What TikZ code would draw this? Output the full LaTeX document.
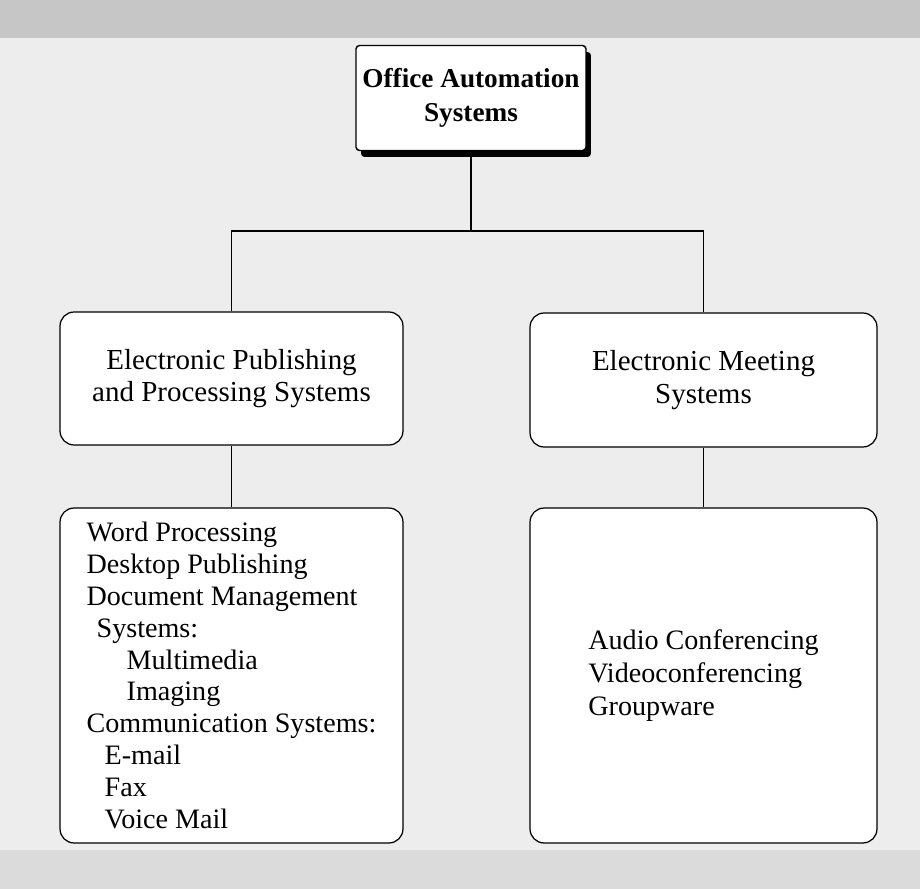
\documentclass[tikz,border=0pt]{standalone}
\usepackage{fontspec}
\setmainfont{Liberation Serif}
\usetikzlibrary{shadows}

\begin{document}
\begin{tikzpicture}[x=0.02cm,y=-0.02cm,
  box/.style={draw,rounded corners=8pt,fill=white,line width=0.7pt,align=center,
    font=\fontsize{16.5}{18.5}\selectfont},
  listbox/.style={box,align=left,minimum height=6.7cm},
  link/.style={line width=1.1pt}]

% fondo
\fill[gray!14] (0,0) rectangle (920,889);
\fill[gray!45] (0,0) rectangle (920,38);
\fill[gray!28] (0,850) rectangle (920,889);
\useasboundingbox (0,0) rectangle (920,889);

\node[draw,fill=white,line width=0.8pt,rounded corners=2pt,minimum width=4.6cm,minimum height=2.1cm,
  align=center,font=\fontsize{15.5}{19}\selectfont\bfseries,
  drop shadow={shadow xshift=0.1cm,shadow yshift=-0.13cm,fill=black,opacity=1}]
  (oas) at (471,98) {Office Automation\\Systems};

\node[box,minimum width=6.86cm,minimum height=2.66cm] (epps) at (231.5,378.5)
  {Electronic Publishing\\and Processing Systems};
\node[box,minimum width=6.94cm,minimum height=2.68cm] (ems) at (703.5,380)
  {Electronic Meeting\\Systems};

\node[listbox,minimum width=6.86cm,font=\fontsize{16}{18.1}\selectfont] (epl) at (231.5,675.5)
  {Word Processing\\Desktop Publishing\\Document Management\\
   \hspace*{0.2cm}Systems:\\\hspace*{0.8cm}Multimedia\\\hspace*{0.8cm}Imaging\\
   Communication Systems:\\\hspace*{0.36cm}E-mail\\\hspace*{0.36cm}Fax\\\hspace*{0.36cm}Voice Mail};
\node[listbox,minimum width=6.94cm,font=\fontsize{16}{18.8}\selectfont] (eml) at (703.5,675.5)
  {Audio Conferencing\\Videoconferencing\\Groupware};

\coordinate (bus) at (471,231);
\draw[link] (oas.south) -- (bus);
\draw[link] (epps.north) |- (bus) -| (ems.north);
\draw[link] (epps.south) -- (epl.north);
\draw[link] (ems.south) -- (eml.north);

\end{tikzpicture}
\end{document}
